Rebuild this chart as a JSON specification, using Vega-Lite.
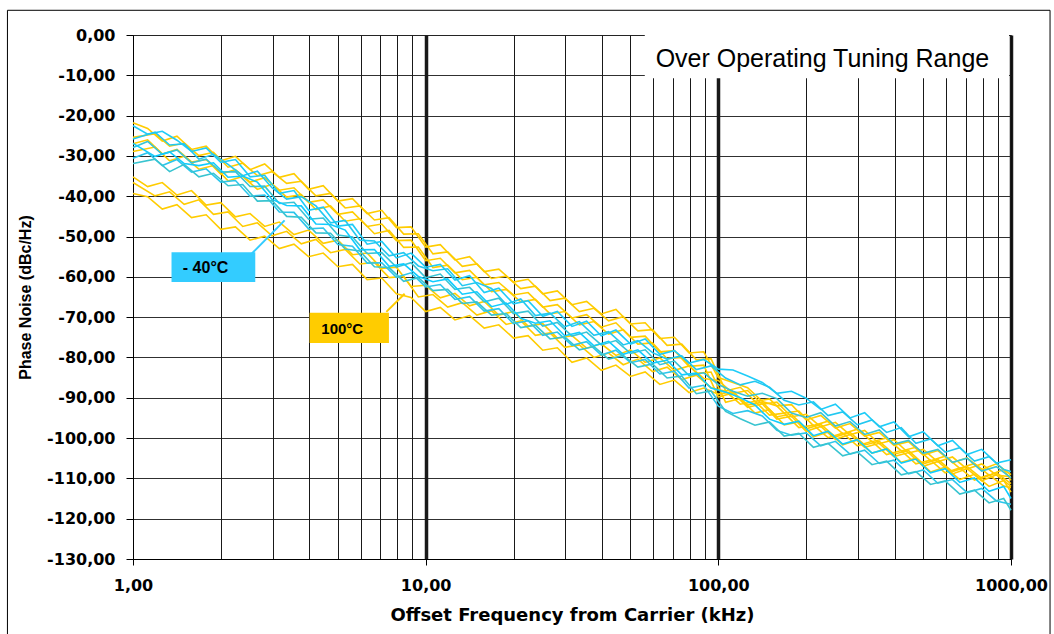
{
"$schema":"https://vega.github.io/schema/vega-lite/v6.json",
"width":878,"height":524,
"autosize":{"type":"none"},
"padding":{"left":133,"top":35,"right":43,"bottom":75},
"background":"white",
"config":{"view":{"stroke":"#808080","strokeWidth":1}},
"datasets":{
"yl":[
{"f":1,"s":"y1","v":-21.8},{"f":1.122,"s":"y1","v":-23.2},{"f":1.259,"s":"y1","v":-26.3},{"f":1.413,"s":"y1","v":-25.1},{"f":1.585,"s":"y1","v":-28.4},{"f":1.778,"s":"y1","v":-27.6},{"f":1.995,"s":"y1","v":-31.2},{"f":2.239,"s":"y1","v":-30.1},{"f":2.512,"s":"y1","v":-33.4},{"f":2.818,"s":"y1","v":-32.0},{"f":3.162,"s":"y1","v":-35.3},{"f":3.548,"s":"y1","v":-34.4},{"f":3.981,"s":"y1","v":-38.3},{"f":4.467,"s":"y1","v":-37.4},{"f":5.012,"s":"y1","v":-41.2},{"f":5.623,"s":"y1","v":-40.6},{"f":6.31,"s":"y1","v":-44.3},{"f":7.079,"s":"y1","v":-43.5},{"f":7.943,"s":"y1","v":-47.8},{"f":8.913,"s":"y1","v":-47.6},{"f":10,"s":"y1","v":-52.6},{"f":11.22,"s":"y1","v":-52.0},{"f":12.59,"s":"y1","v":-55.8},{"f":14.13,"s":"y1","v":-55.0},{"f":15.85,"s":"y1","v":-58.7},{"f":17.78,"s":"y1","v":-58.1},{"f":19.95,"s":"y1","v":-61.3},{"f":22.39,"s":"y1","v":-60.6},{"f":25.12,"s":"y1","v":-64.2},{"f":28.18,"s":"y1","v":-63.5},{"f":31.62,"s":"y1","v":-66.9},{"f":35.48,"s":"y1","v":-66.1},{"f":39.81,"s":"y1","v":-69.2},{"f":44.67,"s":"y1","v":-68.1},{"f":50.12,"s":"y1","v":-71.7},{"f":56.23,"s":"y1","v":-71.4},{"f":63.1,"s":"y1","v":-75.3},{"f":70.79,"s":"y1","v":-75.0},{"f":79.43,"s":"y1","v":-78.9},{"f":89.13,"s":"y1","v":-78.6},{"f":100,"s":"y1","v":-85.0},{"f":112.2,"s":"y1","v":-86.2},{"f":125.9,"s":"y1","v":-87.5},{"f":141.3,"s":"y1","v":-90.9},{"f":158.5,"s":"y1","v":-92.0},{"f":177.8,"s":"y1","v":-91.7},{"f":199.5,"s":"y1","v":-95.5},{"f":223.9,"s":"y1","v":-94.4},{"f":251.2,"s":"y1","v":-97.5},{"f":281.8,"s":"y1","v":-96.4},{"f":316.2,"s":"y1","v":-99.5},{"f":354.8,"s":"y1","v":-98.6},{"f":398.1,"s":"y1","v":-101.8},{"f":446.7,"s":"y1","v":-100.9},{"f":501.2,"s":"y1","v":-104.2},{"f":562.3,"s":"y1","v":-103.1},{"f":631,"s":"y1","v":-106.1},{"f":707.9,"s":"y1","v":-104.9},{"f":794.3,"s":"y1","v":-107.8},{"f":891.3,"s":"y1","v":-106.4},{"f":1000,"s":"y1","v":-109.1},
{"f":1,"s":"y2","v":-25.4},{"f":1.189,"s":"y2","v":-24.5},{"f":1.334,"s":"y2","v":-27.6},{"f":1.496,"s":"y2","v":-26.8},{"f":1.679,"s":"y2","v":-29.9},{"f":1.884,"s":"y2","v":-29.1},{"f":2.113,"s":"y2","v":-32.8},{"f":2.371,"s":"y2","v":-31.8},{"f":2.661,"s":"y2","v":-34.9},{"f":2.985,"s":"y2","v":-33.9},{"f":3.35,"s":"y2","v":-36.8},{"f":3.758,"s":"y2","v":-36.3},{"f":4.217,"s":"y2","v":-39.9},{"f":4.732,"s":"y2","v":-39.3},{"f":5.309,"s":"y2","v":-42.9},{"f":5.957,"s":"y2","v":-42.4},{"f":6.683,"s":"y2","v":-45.9},{"f":7.499,"s":"y2","v":-45.3},{"f":8.414,"s":"y2","v":-49.4},{"f":9.441,"s":"y2","v":-49.3},{"f":10.59,"s":"y2","v":-54.3},{"f":11.89,"s":"y2","v":-53.8},{"f":13.34,"s":"y2","v":-57.4},{"f":14.96,"s":"y2","v":-56.8},{"f":16.79,"s":"y2","v":-60.4},{"f":18.84,"s":"y2","v":-59.8},{"f":21.13,"s":"y2","v":-62.9},{"f":23.71,"s":"y2","v":-62.3},{"f":26.61,"s":"y2","v":-65.9},{"f":29.85,"s":"y2","v":-65.3},{"f":33.5,"s":"y2","v":-68.6},{"f":37.58,"s":"y2","v":-67.8},{"f":42.17,"s":"y2","v":-70.9},{"f":47.32,"s":"y2","v":-69.9},{"f":53.09,"s":"y2","v":-73.4},{"f":59.57,"s":"y2","v":-73.1},{"f":66.83,"s":"y2","v":-77.0},{"f":74.99,"s":"y2","v":-76.7},{"f":84.14,"s":"y2","v":-80.6},{"f":94.41,"s":"y2","v":-80.3},{"f":105.9,"s":"y2","v":-88.3},{"f":118.9,"s":"y2","v":-87.4},{"f":133.4,"s":"y2","v":-90.9},{"f":149.6,"s":"y2","v":-90.3},{"f":167.9,"s":"y2","v":-93.8},{"f":188.4,"s":"y2","v":-93.3},{"f":211.3,"s":"y2","v":-96.9},{"f":237.1,"s":"y2","v":-95.8},{"f":266.1,"s":"y2","v":-98.9},{"f":298.5,"s":"y2","v":-97.8},{"f":335,"s":"y2","v":-100.9},{"f":375.8,"s":"y2","v":-100.0},{"f":421.7,"s":"y2","v":-103.2},{"f":473.2,"s":"y2","v":-102.3},{"f":530.9,"s":"y2","v":-105.6},{"f":595.7,"s":"y2","v":-104.5},{"f":668.3,"s":"y2","v":-107.5},{"f":749.9,"s":"y2","v":-106.3},{"f":841.4,"s":"y2","v":-109.2},{"f":944.1,"s":"y2","v":-107.8},{"f":1000,"s":"y2","v":-110.5},
{"f":1,"s":"y3","v":-27.0},{"f":1.122,"s":"y3","v":-26.0},{"f":1.259,"s":"y3","v":-29.5},{"f":1.413,"s":"y3","v":-28.4},{"f":1.585,"s":"y3","v":-31.5},{"f":1.778,"s":"y3","v":-30.9},{"f":1.995,"s":"y3","v":-34.5},{"f":2.239,"s":"y3","v":-33.4},{"f":2.512,"s":"y3","v":-36.5},{"f":2.818,"s":"y3","v":-35.4},{"f":3.162,"s":"y3","v":-38.5},{"f":3.548,"s":"y3","v":-37.9},{"f":3.981,"s":"y3","v":-41.5},{"f":4.467,"s":"y3","v":-40.9},{"f":5.012,"s":"y3","v":-44.5},{"f":5.623,"s":"y3","v":-43.9},{"f":6.31,"s":"y3","v":-47.5},{"f":7.079,"s":"y3","v":-46.9},{"f":7.943,"s":"y3","v":-51.0},{"f":8.913,"s":"y3","v":-50.9},{"f":10,"s":"y3","v":-56.0},{"f":11.22,"s":"y3","v":-55.4},{"f":12.59,"s":"y3","v":-59.0},{"f":14.13,"s":"y3","v":-58.4},{"f":15.85,"s":"y3","v":-62.0},{"f":17.78,"s":"y3","v":-61.4},{"f":19.95,"s":"y3","v":-64.5},{"f":22.39,"s":"y3","v":-63.9},{"f":25.12,"s":"y3","v":-67.5},{"f":28.18,"s":"y3","v":-66.9},{"f":31.62,"s":"y3","v":-70.2},{"f":35.48,"s":"y3","v":-69.4},{"f":39.81,"s":"y3","v":-72.5},{"f":44.67,"s":"y3","v":-71.4},{"f":50.12,"s":"y3","v":-75.0},{"f":56.23,"s":"y3","v":-74.7},{"f":63.1,"s":"y3","v":-78.6},{"f":70.79,"s":"y3","v":-78.3},{"f":79.43,"s":"y3","v":-82.2},{"f":89.13,"s":"y3","v":-81.9},{"f":100,"s":"y3","v":-89.8},{"f":112.2,"s":"y3","v":-88.8},{"f":125.9,"s":"y3","v":-92.4},{"f":141.3,"s":"y3","v":-91.5},{"f":158.5,"s":"y3","v":-95.3},{"f":177.8,"s":"y3","v":-94.6},{"f":199.5,"s":"y3","v":-98.3},{"f":223.9,"s":"y3","v":-97.1},{"f":251.2,"s":"y3","v":-100.3},{"f":281.8,"s":"y3","v":-99.1},{"f":316.2,"s":"y3","v":-102.3},{"f":354.8,"s":"y3","v":-101.3},{"f":398.1,"s":"y3","v":-104.6},{"f":446.7,"s":"y3","v":-103.6},{"f":501.2,"s":"y3","v":-107.0},{"f":562.3,"s":"y3","v":-105.8},{"f":631,"s":"y3","v":-108.9},{"f":707.9,"s":"y3","v":-107.6},{"f":794.3,"s":"y3","v":-110.6},{"f":891.3,"s":"y3","v":-109.1},{"f":1000,"s":"y3","v":-112.0},
{"f":1,"s":"y4","v":-28.9},{"f":1.189,"s":"y4","v":-27.8},{"f":1.334,"s":"y4","v":-31.2},{"f":1.496,"s":"y4","v":-30.1},{"f":1.679,"s":"y4","v":-33.3},{"f":1.884,"s":"y4","v":-32.4},{"f":2.113,"s":"y4","v":-36.2},{"f":2.371,"s":"y4","v":-35.1},{"f":2.661,"s":"y4","v":-38.3},{"f":2.985,"s":"y4","v":-37.0},{"f":3.35,"s":"y4","v":-40.2},{"f":3.758,"s":"y4","v":-39.6},{"f":4.217,"s":"y4","v":-43.3},{"f":4.732,"s":"y4","v":-42.4},{"f":5.309,"s":"y4","v":-46.2},{"f":5.957,"s":"y4","v":-45.6},{"f":6.683,"s":"y4","v":-49.3},{"f":7.499,"s":"y4","v":-48.5},{"f":8.414,"s":"y4","v":-52.7},{"f":9.441,"s":"y4","v":-52.6},{"f":10.59,"s":"y4","v":-57.7},{"f":11.89,"s":"y4","v":-57.1},{"f":13.34,"s":"y4","v":-60.7},{"f":14.96,"s":"y4","v":-60.1},{"f":16.79,"s":"y4","v":-63.7},{"f":18.84,"s":"y4","v":-63.1},{"f":21.13,"s":"y4","v":-66.2},{"f":23.71,"s":"y4","v":-65.6},{"f":26.61,"s":"y4","v":-69.2},{"f":29.85,"s":"y4","v":-68.6},{"f":33.5,"s":"y4","v":-71.9},{"f":37.58,"s":"y4","v":-71.1},{"f":42.17,"s":"y4","v":-74.2},{"f":47.32,"s":"y4","v":-73.1},{"f":53.09,"s":"y4","v":-76.7},{"f":59.57,"s":"y4","v":-76.4},{"f":66.83,"s":"y4","v":-80.3},{"f":74.99,"s":"y4","v":-80.0},{"f":84.14,"s":"y4","v":-83.9},{"f":94.41,"s":"y4","v":-83.6},{"f":105.9,"s":"y4","v":-91.1},{"f":118.9,"s":"y4","v":-90.2},{"f":133.4,"s":"y4","v":-93.8},{"f":149.6,"s":"y4","v":-92.9},{"f":167.9,"s":"y4","v":-96.7},{"f":188.4,"s":"y4","v":-96.0},{"f":211.3,"s":"y4","v":-99.7},{"f":237.1,"s":"y4","v":-98.5},{"f":266.1,"s":"y4","v":-101.7},{"f":298.5,"s":"y4","v":-100.5},{"f":335,"s":"y4","v":-103.7},{"f":375.8,"s":"y4","v":-102.7},{"f":421.7,"s":"y4","v":-106.0},{"f":473.2,"s":"y4","v":-105.0},{"f":530.9,"s":"y4","v":-108.4},{"f":595.7,"s":"y4","v":-107.2},{"f":668.3,"s":"y4","v":-110.3},{"f":749.9,"s":"y4","v":-109.0},{"f":841.4,"s":"y4","v":-112.0},{"f":944.1,"s":"y4","v":-110.5},{"f":1000,"s":"y4","v":-113.4},
{"f":1,"s":"y5","v":-35.2},{"f":1.122,"s":"y5","v":-37.6},{"f":1.259,"s":"y5","v":-36.6},{"f":1.413,"s":"y5","v":-39.7},{"f":1.585,"s":"y5","v":-38.6},{"f":1.778,"s":"y5","v":-42.2},{"f":1.995,"s":"y5","v":-41.6},{"f":2.239,"s":"y5","v":-45.1},{"f":2.512,"s":"y5","v":-44.3},{"f":2.818,"s":"y5","v":-47.5},{"f":3.162,"s":"y5","v":-46.4},{"f":3.548,"s":"y5","v":-49.5},{"f":3.981,"s":"y5","v":-48.4},{"f":4.467,"s":"y5","v":-51.7},{"f":5.012,"s":"y5","v":-50.9},{"f":5.623,"s":"y5","v":-54.5},{"f":6.31,"s":"y5","v":-54.1},{"f":7.079,"s":"y5","v":-57.9},{"f":7.943,"s":"y5","v":-57.6},{"f":8.913,"s":"y5","v":-62.4},{"f":10,"s":"y5","v":-62.1},{"f":11.22,"s":"y5","v":-65.2},{"f":12.59,"s":"y5","v":-64.1},{"f":14.13,"s":"y5","v":-67.2},{"f":15.85,"s":"y5","v":-66.1},{"f":17.78,"s":"y5","v":-69.5},{"f":19.95,"s":"y5","v":-68.6},{"f":22.39,"s":"y5","v":-72.2},{"f":25.12,"s":"y5","v":-71.6},{"f":28.18,"s":"y5","v":-75.2},{"f":31.62,"s":"y5","v":-74.6},{"f":35.48,"s":"y5","v":-77.7},{"f":39.81,"s":"y5","v":-76.6},{"f":44.67,"s":"y5","v":-79.5},{"f":50.12,"s":"y5","v":-78.1},{"f":56.23,"s":"y5","v":-81.2},{"f":63.1,"s":"y5","v":-80.1},{"f":70.79,"s":"y5","v":-83.2},{"f":79.43,"s":"y5","v":-82.1},{"f":89.13,"s":"y5","v":-85.2},{"f":100,"s":"y5","v":-85.7},{"f":112.2,"s":"y5","v":-88.9},{"f":125.9,"s":"y5","v":-88.2},{"f":141.3,"s":"y5","v":-91.6},{"f":158.5,"s":"y5","v":-91.1},{"f":177.8,"s":"y5","v":-94.7},{"f":199.5,"s":"y5","v":-94.1},{"f":223.9,"s":"y5","v":-97.2},{"f":251.2,"s":"y5","v":-96.1},{"f":281.8,"s":"y5","v":-99.2},{"f":316.2,"s":"y5","v":-98.1},{"f":354.8,"s":"y5","v":-101.4},{"f":398.1,"s":"y5","v":-100.4},{"f":446.7,"s":"y5","v":-103.7},{"f":501.2,"s":"y5","v":-102.8},{"f":562.3,"s":"y5","v":-105.9},{"f":631,"s":"y5","v":-104.7},{"f":707.9,"s":"y5","v":-107.7},{"f":794.3,"s":"y5","v":-106.4},{"f":891.3,"s":"y5","v":-109.2},{"f":1000,"s":"y5","v":-109.6},
{"f":1,"s":"y6","v":-36.6},{"f":1.189,"s":"y6","v":-39.9},{"f":1.334,"s":"y6","v":-38.9},{"f":1.496,"s":"y6","v":-42.0},{"f":1.679,"s":"y6","v":-40.9},{"f":1.884,"s":"y6","v":-44.5},{"f":2.113,"s":"y6","v":-43.9},{"f":2.371,"s":"y6","v":-47.5},{"f":2.661,"s":"y6","v":-46.6},{"f":2.985,"s":"y6","v":-49.8},{"f":3.35,"s":"y6","v":-48.7},{"f":3.758,"s":"y6","v":-51.8},{"f":4.217,"s":"y6","v":-50.7},{"f":4.732,"s":"y6","v":-54.0},{"f":5.309,"s":"y6","v":-53.2},{"f":5.957,"s":"y6","v":-56.8},{"f":6.683,"s":"y6","v":-56.4},{"f":7.499,"s":"y6","v":-60.2},{"f":8.414,"s":"y6","v":-59.9},{"f":9.441,"s":"y6","v":-65.0},{"f":10.59,"s":"y6","v":-64.4},{"f":11.89,"s":"y6","v":-67.5},{"f":13.34,"s":"y6","v":-66.4},{"f":14.96,"s":"y6","v":-69.5},{"f":16.79,"s":"y6","v":-68.4},{"f":18.84,"s":"y6","v":-71.8},{"f":21.13,"s":"y6","v":-70.9},{"f":23.71,"s":"y6","v":-74.5},{"f":26.61,"s":"y6","v":-73.9},{"f":29.85,"s":"y6","v":-77.5},{"f":33.5,"s":"y6","v":-76.9},{"f":37.58,"s":"y6","v":-80.0},{"f":42.17,"s":"y6","v":-78.9},{"f":47.32,"s":"y6","v":-81.8},{"f":53.09,"s":"y6","v":-80.4},{"f":59.57,"s":"y6","v":-83.5},{"f":66.83,"s":"y6","v":-82.4},{"f":74.99,"s":"y6","v":-85.5},{"f":84.14,"s":"y6","v":-84.4},{"f":94.41,"s":"y6","v":-87.5},{"f":105.9,"s":"y6","v":-88.4},{"f":118.9,"s":"y6","v":-91.6},{"f":133.4,"s":"y6","v":-90.9},{"f":149.6,"s":"y6","v":-94.3},{"f":167.9,"s":"y6","v":-93.8},{"f":188.4,"s":"y6","v":-97.4},{"f":211.3,"s":"y6","v":-96.8},{"f":237.1,"s":"y6","v":-99.9},{"f":266.1,"s":"y6","v":-98.8},{"f":298.5,"s":"y6","v":-101.9},{"f":335,"s":"y6","v":-100.8},{"f":375.8,"s":"y6","v":-104.1},{"f":421.7,"s":"y6","v":-103.1},{"f":473.2,"s":"y6","v":-106.4},{"f":530.9,"s":"y6","v":-105.5},{"f":595.7,"s":"y6","v":-108.6},{"f":668.3,"s":"y6","v":-107.4},{"f":749.9,"s":"y6","v":-110.4},{"f":841.4,"s":"y6","v":-109.1},{"f":944.1,"s":"y6","v":-111.9},{"f":1000,"s":"y6","v":-112.3},
{"f":1,"s":"y7","v":-39.3},{"f":1.122,"s":"y7","v":-40.1},{"f":1.259,"s":"y7","v":-43.2},{"f":1.413,"s":"y7","v":-42.1},{"f":1.585,"s":"y7","v":-45.3},{"f":1.778,"s":"y7","v":-44.6},{"f":1.995,"s":"y7","v":-48.2},{"f":2.239,"s":"y7","v":-47.6},{"f":2.512,"s":"y7","v":-50.9},{"f":2.818,"s":"y7","v":-49.9},{"f":3.162,"s":"y7","v":-53.0},{"f":3.548,"s":"y7","v":-51.9},{"f":3.981,"s":"y7","v":-55.0},{"f":4.467,"s":"y7","v":-54.1},{"f":5.012,"s":"y7","v":-57.5},{"f":5.623,"s":"y7","v":-56.9},{"f":6.31,"s":"y7","v":-60.7},{"f":7.079,"s":"y7","v":-60.3},{"f":7.943,"s":"y7","v":-64.2},{"f":8.913,"s":"y7","v":-65.1},{"f":10,"s":"y7","v":-68.6},{"f":11.22,"s":"y7","v":-67.6},{"f":12.59,"s":"y7","v":-70.7},{"f":14.13,"s":"y7","v":-69.6},{"f":15.85,"s":"y7","v":-72.7},{"f":17.78,"s":"y7","v":-71.9},{"f":19.95,"s":"y7","v":-75.2},{"f":22.39,"s":"y7","v":-74.6},{"f":25.12,"s":"y7","v":-78.2},{"f":28.18,"s":"y7","v":-77.6},{"f":31.62,"s":"y7","v":-81.2},{"f":35.48,"s":"y7","v":-80.1},{"f":39.81,"s":"y7","v":-83.2},{"f":44.67,"s":"y7","v":-81.9},{"f":50.12,"s":"y7","v":-84.7},{"f":56.23,"s":"y7","v":-83.6},{"f":63.1,"s":"y7","v":-86.7},{"f":70.79,"s":"y7","v":-85.6},{"f":79.43,"s":"y7","v":-88.7},{"f":89.13,"s":"y7","v":-87.6},{"f":100,"s":"y7","v":-89.1},{"f":112.2,"s":"y7","v":-88.5},{"f":125.9,"s":"y7","v":-91.8},{"f":141.3,"s":"y7","v":-91.1},{"f":158.5,"s":"y7","v":-94.7},{"f":177.8,"s":"y7","v":-94.1},{"f":199.5,"s":"y7","v":-97.7},{"f":223.9,"s":"y7","v":-96.6},{"f":251.2,"s":"y7","v":-99.7},{"f":281.8,"s":"y7","v":-98.6},{"f":316.2,"s":"y7","v":-101.7},{"f":354.8,"s":"y7","v":-100.8},{"f":398.1,"s":"y7","v":-104.0},{"f":446.7,"s":"y7","v":-103.1},{"f":501.2,"s":"y7","v":-106.4},{"f":562.3,"s":"y7","v":-105.3},{"f":631,"s":"y7","v":-108.3},{"f":707.9,"s":"y7","v":-107.1},{"f":794.3,"s":"y7","v":-110.0},{"f":891.3,"s":"y7","v":-108.6},{"f":1000,"s":"y7","v":-111.3}
],
"cy":[
{"f":1,"s":"c1","v":-22.5},{"f":1.122,"s":"c1","v":-24.6},{"f":1.259,"s":"c1","v":-23.9},{"f":1.413,"s":"c1","v":-26.1},{"f":1.585,"s":"c1","v":-28.9},{"f":1.778,"s":"c1","v":-28.0},{"f":1.995,"s":"c1","v":-31.6},{"f":2.239,"s":"c1","v":-30.9},{"f":2.512,"s":"c1","v":-35.2},{"f":2.818,"s":"c1","v":-34.8},{"f":3.162,"s":"c1","v":-39.3},{"f":3.548,"s":"c1","v":-38.6},{"f":3.981,"s":"c1","v":-43.5},{"f":4.467,"s":"c1","v":-42.7},{"f":5.012,"s":"c1","v":-47.4},{"f":5.623,"s":"c1","v":-47.0},{"f":6.31,"s":"c1","v":-51.9},{"f":7.079,"s":"c1","v":-51.2},{"f":7.943,"s":"c1","v":-55.3},{"f":8.913,"s":"c1","v":-54.1},{"f":10,"s":"c1","v":-57.6},{"f":11.22,"s":"c1","v":-56.9},{"f":12.59,"s":"c1","v":-60.8},{"f":14.13,"s":"c1","v":-59.7},{"f":15.85,"s":"c1","v":-63.9},{"f":17.78,"s":"c1","v":-62.8},{"f":19.95,"s":"c1","v":-66.7},{"f":22.39,"s":"c1","v":-65.9},{"f":25.12,"s":"c1","v":-69.8},{"f":28.18,"s":"c1","v":-68.6},{"f":31.62,"s":"c1","v":-72.3},{"f":35.48,"s":"c1","v":-71.0},{"f":39.81,"s":"c1","v":-74.6},{"f":44.67,"s":"c1","v":-73.2},{"f":50.12,"s":"c1","v":-76.7},{"f":56.23,"s":"c1","v":-75.4},{"f":63.1,"s":"c1","v":-79.2},{"f":70.79,"s":"c1","v":-78.3},{"f":79.43,"s":"c1","v":-81.4},{"f":89.13,"s":"c1","v":-80.5},{"f":100,"s":"c1","v":-82.9},{"f":112.2,"s":"c1","v":-83.1},{"f":125.9,"s":"c1","v":-84.6},{"f":141.3,"s":"c1","v":-86.2},{"f":158.5,"s":"c1","v":-88.9},{"f":177.8,"s":"c1","v":-88.4},{"f":199.5,"s":"c1","v":-90.1},{"f":223.9,"s":"c1","v":-92.9},{"f":251.2,"s":"c1","v":-91.6},{"f":281.8,"s":"c1","v":-95.0},{"f":316.2,"s":"c1","v":-93.7},{"f":354.8,"s":"c1","v":-97.2},{"f":398.1,"s":"c1","v":-96.0},{"f":446.7,"s":"c1","v":-99.7},{"f":501.2,"s":"c1","v":-98.4},{"f":562.3,"s":"c1","v":-101.9},{"f":631,"s":"c1","v":-100.6},{"f":707.9,"s":"c1","v":-104.1},{"f":794.3,"s":"c1","v":-102.8},{"f":891.3,"s":"c1","v":-106.2},{"f":1000,"s":"c1","v":-105.4},
{"f":1,"s":"c2","v":-25.8},{"f":1.189,"s":"c2","v":-24.1},{"f":1.334,"s":"c2","v":-27.3},{"f":1.496,"s":"c2","v":-27.0},{"f":1.679,"s":"c2","v":-30.8},{"f":1.884,"s":"c2","v":-29.6},{"f":2.113,"s":"c2","v":-32.1},{"f":2.371,"s":"c2","v":-34.9},{"f":2.661,"s":"c2","v":-33.8},{"f":2.985,"s":"c2","v":-37.9},{"f":3.35,"s":"c2","v":-40.7},{"f":3.758,"s":"c2","v":-40.1},{"f":4.217,"s":"c2","v":-42.4},{"f":4.732,"s":"c2","v":-46.6},{"f":5.309,"s":"c2","v":-46.0},{"f":5.957,"s":"c2","v":-50.9},{"f":6.683,"s":"c2","v":-51.1},{"f":7.499,"s":"c2","v":-54.8},{"f":8.414,"s":"c2","v":-54.0},{"f":9.441,"s":"c2","v":-57.3},{"f":10.59,"s":"c2","v":-58.5},{"f":11.89,"s":"c2","v":-58.0},{"f":13.34,"s":"c2","v":-62.2},{"f":14.96,"s":"c2","v":-61.4},{"f":16.79,"s":"c2","v":-62.9},{"f":18.84,"s":"c2","v":-66.8},{"f":21.13,"s":"c2","v":-65.5},{"f":23.71,"s":"c2","v":-69.6},{"f":26.61,"s":"c2","v":-69.0},{"f":29.85,"s":"c2","v":-72.4},{"f":33.5,"s":"c2","v":-71.1},{"f":37.58,"s":"c2","v":-74.5},{"f":42.17,"s":"c2","v":-73.6},{"f":47.32,"s":"c2","v":-76.9},{"f":53.09,"s":"c2","v":-75.8},{"f":59.57,"s":"c2","v":-78.8},{"f":66.83,"s":"c2","v":-80.4},{"f":74.99,"s":"c2","v":-79.6},{"f":84.14,"s":"c2","v":-83.0},{"f":94.41,"s":"c2","v":-82.1},{"f":105.9,"s":"c2","v":-85.1},{"f":118.9,"s":"c2","v":-86.8},{"f":133.4,"s":"c2","v":-85.9},{"f":149.6,"s":"c2","v":-87.4},{"f":167.9,"s":"c2","v":-90.6},{"f":188.4,"s":"c2","v":-91.8},{"f":211.3,"s":"c2","v":-91.0},{"f":237.1,"s":"c2","v":-94.4},{"f":266.1,"s":"c2","v":-93.5},{"f":298.5,"s":"c2","v":-96.7},{"f":335,"s":"c2","v":-95.5},{"f":375.8,"s":"c2","v":-98.6},{"f":421.7,"s":"c2","v":-97.4},{"f":473.2,"s":"c2","v":-101.3},{"f":530.9,"s":"c2","v":-100.2},{"f":595.7,"s":"c2","v":-103.5},{"f":668.3,"s":"c2","v":-102.4},{"f":749.9,"s":"c2","v":-105.7},{"f":841.4,"s":"c2","v":-104.6},{"f":944.1,"s":"c2","v":-107.8},{"f":1000,"s":"c2","v":-108.3},
{"f":1,"s":"c3","v":-27.9},{"f":1.122,"s":"c3","v":-26.4},{"f":1.259,"s":"c3","v":-29.6},{"f":1.413,"s":"c3","v":-28.5},{"f":1.585,"s":"c3","v":-31.7},{"f":1.778,"s":"c3","v":-30.8},{"f":1.995,"s":"c3","v":-34.0},{"f":2.239,"s":"c3","v":-33.9},{"f":2.512,"s":"c3","v":-37.6},{"f":2.818,"s":"c3","v":-37.5},{"f":3.162,"s":"c3","v":-41.8},{"f":3.548,"s":"c3","v":-41.5},{"f":3.981,"s":"c3","v":-45.7},{"f":4.467,"s":"c3","v":-45.4},{"f":5.012,"s":"c3","v":-49.6},{"f":5.623,"s":"c3","v":-50.1},{"f":6.31,"s":"c3","v":-54.2},{"f":7.079,"s":"c3","v":-54.0},{"f":7.943,"s":"c3","v":-57.6},{"f":8.913,"s":"c3","v":-56.5},{"f":10,"s":"c3","v":-60.2},{"f":11.22,"s":"c3","v":-59.3},{"f":12.59,"s":"c3","v":-63.1},{"f":14.13,"s":"c3","v":-62.6},{"f":15.85,"s":"c3","v":-66.2},{"f":17.78,"s":"c3","v":-65.3},{"f":19.95,"s":"c3","v":-69.1},{"f":22.39,"s":"c3","v":-68.5},{"f":25.12,"s":"c3","v":-72.2},{"f":28.18,"s":"c3","v":-71.3},{"f":31.62,"s":"c3","v":-74.7},{"f":35.48,"s":"c3","v":-73.7},{"f":39.81,"s":"c3","v":-76.9},{"f":44.67,"s":"c3","v":-75.8},{"f":50.12,"s":"c3","v":-79.0},{"f":56.23,"s":"c3","v":-78.1},{"f":63.1,"s":"c3","v":-81.8},{"f":70.79,"s":"c3","v":-80.9},{"f":79.43,"s":"c3","v":-84.5},{"f":89.13,"s":"c3","v":-83.8},{"f":100,"s":"c3","v":-86.7},{"f":112.2,"s":"c3","v":-88.4},{"f":125.9,"s":"c3","v":-89.6},{"f":141.3,"s":"c3","v":-88.9},{"f":158.5,"s":"c3","v":-90.2},{"f":177.8,"s":"c3","v":-93.8},{"f":199.5,"s":"c3","v":-94.9},{"f":223.9,"s":"c3","v":-93.7},{"f":251.2,"s":"c3","v":-97.0},{"f":281.8,"s":"c3","v":-95.9},{"f":316.2,"s":"c3","v":-99.1},{"f":354.8,"s":"c3","v":-98.0},{"f":398.1,"s":"c3","v":-101.5},{"f":446.7,"s":"c3","v":-100.6},{"f":501.2,"s":"c3","v":-103.8},{"f":562.3,"s":"c3","v":-102.8},{"f":631,"s":"c3","v":-106.0},{"f":707.9,"s":"c3","v":-105.0},{"f":794.3,"s":"c3","v":-108.2},{"f":891.3,"s":"c3","v":-107.1},{"f":1000,"s":"c3","v":-109.9},
{"f":1,"s":"c4","v":-26.9},{"f":1.189,"s":"c4","v":-30.1},{"f":1.334,"s":"c4","v":-29.0},{"f":1.496,"s":"c4","v":-31.9},{"f":1.679,"s":"c4","v":-32.4},{"f":1.884,"s":"c4","v":-31.7},{"f":2.113,"s":"c4","v":-35.3},{"f":2.371,"s":"c4","v":-35.0},{"f":2.661,"s":"c4","v":-36.5},{"f":2.985,"s":"c4","v":-40.8},{"f":3.35,"s":"c4","v":-42.3},{"f":3.758,"s":"c4","v":-42.4},{"f":4.217,"s":"c4","v":-46.9},{"f":4.732,"s":"c4","v":-47.0},{"f":5.309,"s":"c4","v":-48.4},{"f":5.957,"s":"c4","v":-53.3},{"f":6.683,"s":"c4","v":-53.2},{"f":7.499,"s":"c4","v":-57.4},{"f":8.414,"s":"c4","v":-56.8},{"f":9.441,"s":"c4","v":-59.9},{"f":10.59,"s":"c4","v":-61.2},{"f":11.89,"s":"c4","v":-60.5},{"f":13.34,"s":"c4","v":-64.3},{"f":14.96,"s":"c4","v":-63.7},{"f":16.79,"s":"c4","v":-67.4},{"f":18.84,"s":"c4","v":-66.5},{"f":21.13,"s":"c4","v":-70.3},{"f":23.71,"s":"c4","v":-71.5},{"f":26.61,"s":"c4","v":-70.9},{"f":29.85,"s":"c4","v":-74.6},{"f":33.5,"s":"c4","v":-73.8},{"f":37.58,"s":"c4","v":-77.1},{"f":42.17,"s":"c4","v":-76.0},{"f":47.32,"s":"c4","v":-79.2},{"f":53.09,"s":"c4","v":-78.1},{"f":59.57,"s":"c4","v":-81.4},{"f":66.83,"s":"c4","v":-80.7},{"f":74.99,"s":"c4","v":-84.3},{"f":84.14,"s":"c4","v":-83.9},{"f":94.41,"s":"c4","v":-87.6},{"f":105.9,"s":"c4","v":-88.6},{"f":118.9,"s":"c4","v":-90.0},{"f":133.4,"s":"c4","v":-91.8},{"f":149.6,"s":"c4","v":-95.3},{"f":167.9,"s":"c4","v":-96.6},{"f":188.4,"s":"c4","v":-95.8},{"f":211.3,"s":"c4","v":-99.4},{"f":237.1,"s":"c4","v":-98.3},{"f":266.1,"s":"c4","v":-101.5},{"f":298.5,"s":"c4","v":-100.4},{"f":335,"s":"c4","v":-103.7},{"f":375.8,"s":"c4","v":-102.7},{"f":421.7,"s":"c4","v":-106.2},{"f":473.2,"s":"c4","v":-105.2},{"f":530.9,"s":"c4","v":-108.6},{"f":595.7,"s":"c4","v":-107.6},{"f":668.3,"s":"c4","v":-111.0},{"f":749.9,"s":"c4","v":-109.9},{"f":841.4,"s":"c4","v":-113.2},{"f":944.1,"s":"c4","v":-112.0},{"f":1000,"s":"c4","v":-115.0},
{"f":1,"s":"c5","v":-30.6},{"f":1.122,"s":"c5","v":-29.2},{"f":1.259,"s":"c5","v":-32.4},{"f":1.413,"s":"c5","v":-30.9},{"f":1.585,"s":"c5","v":-34.0},{"f":1.778,"s":"c5","v":-33.2},{"f":1.995,"s":"c5","v":-36.5},{"f":2.239,"s":"c5","v":-36.1},{"f":2.512,"s":"c5","v":-40.0},{"f":2.818,"s":"c5","v":-39.7},{"f":3.162,"s":"c5","v":-43.9},{"f":3.548,"s":"c5","v":-44.0},{"f":3.981,"s":"c5","v":-48.1},{"f":4.467,"s":"c5","v":-47.9},{"f":5.012,"s":"c5","v":-52.0},{"f":5.623,"s":"c5","v":-52.4},{"f":6.31,"s":"c5","v":-56.6},{"f":7.079,"s":"c5","v":-56.5},{"f":7.943,"s":"c5","v":-60.1},{"f":8.913,"s":"c5","v":-59.0},{"f":10,"s":"c5","v":-62.5},{"f":11.22,"s":"c5","v":-61.9},{"f":12.59,"s":"c5","v":-65.6},{"f":14.13,"s":"c5","v":-64.9},{"f":15.85,"s":"c5","v":-68.5},{"f":17.78,"s":"c5","v":-67.9},{"f":19.95,"s":"c5","v":-71.6},{"f":22.39,"s":"c5","v":-70.9},{"f":25.12,"s":"c5","v":-74.5},{"f":28.18,"s":"c5","v":-73.7},{"f":31.62,"s":"c5","v":-77.0},{"f":35.48,"s":"c5","v":-76.1},{"f":39.81,"s":"c5","v":-79.4},{"f":44.67,"s":"c5","v":-78.2},{"f":50.12,"s":"c5","v":-81.3},{"f":56.23,"s":"c5","v":-80.5},{"f":63.1,"s":"c5","v":-84.1},{"f":70.79,"s":"c5","v":-83.4},{"f":79.43,"s":"c5","v":-87.6},{"f":89.13,"s":"c5","v":-86.9},{"f":100,"s":"c5","v":-92.1},{"f":112.2,"s":"c5","v":-93.9},{"f":125.9,"s":"c5","v":-93.2},{"f":141.3,"s":"c5","v":-94.5},{"f":158.5,"s":"c5","v":-98.1},{"f":177.8,"s":"c5","v":-99.3},{"f":199.5,"s":"c5","v":-98.7},{"f":223.9,"s":"c5","v":-101.9},{"f":251.2,"s":"c5","v":-100.8},{"f":281.8,"s":"c5","v":-104.0},{"f":316.2,"s":"c5","v":-103.0},{"f":354.8,"s":"c5","v":-106.3},{"f":398.1,"s":"c5","v":-105.5},{"f":446.7,"s":"c5","v":-108.9},{"f":501.2,"s":"c5","v":-107.9},{"f":562.3,"s":"c5","v":-111.2},{"f":631,"s":"c5","v":-110.3},{"f":707.9,"s":"c5","v":-113.5},{"f":794.3,"s":"c5","v":-112.5},{"f":891.3,"s":"c5","v":-115.6},{"f":1000,"s":"c5","v":-116.4},
{"f":1,"s":"c6","v":-31.9},{"f":1.189,"s":"c6","v":-30.8},{"f":1.334,"s":"c6","v":-33.9},{"f":1.496,"s":"c6","v":-32.1},{"f":1.679,"s":"c6","v":-35.2},{"f":1.884,"s":"c6","v":-34.3},{"f":2.113,"s":"c6","v":-37.4},{"f":2.371,"s":"c6","v":-37.1},{"f":2.661,"s":"c6","v":-41.2},{"f":2.985,"s":"c6","v":-41.1},{"f":3.35,"s":"c6","v":-45.0},{"f":3.758,"s":"c6","v":-45.2},{"f":4.217,"s":"c6","v":-49.1},{"f":4.732,"s":"c6","v":-49.2},{"f":5.309,"s":"c6","v":-53.1},{"f":5.957,"s":"c6","v":-53.6},{"f":6.683,"s":"c6","v":-57.5},{"f":7.499,"s":"c6","v":-57.7},{"f":8.414,"s":"c6","v":-61.1},{"f":9.441,"s":"c6","v":-60.2},{"f":10.59,"s":"c6","v":-63.4},{"f":11.89,"s":"c6","v":-63.1},{"f":13.34,"s":"c6","v":-66.6},{"f":14.96,"s":"c6","v":-66.2},{"f":16.79,"s":"c6","v":-69.5},{"f":18.84,"s":"c6","v":-69.1},{"f":21.13,"s":"c6","v":-72.6},{"f":23.71,"s":"c6","v":-72.0},{"f":26.61,"s":"c6","v":-75.4},{"f":29.85,"s":"c6","v":-74.9},{"f":33.5,"s":"c6","v":-78.1},{"f":37.58,"s":"c6","v":-77.3},{"f":42.17,"s":"c6","v":-80.4},{"f":47.32,"s":"c6","v":-79.5},{"f":53.09,"s":"c6","v":-82.4},{"f":59.57,"s":"c6","v":-81.6},{"f":66.83,"s":"c6","v":-85.1},{"f":74.99,"s":"c6","v":-84.6},{"f":84.14,"s":"c6","v":-89.0},{"f":94.41,"s":"c6","v":-88.3},{"f":105.9,"s":"c6","v":-93.4},{"f":118.9,"s":"c6","v":-95.2},{"f":133.4,"s":"c6","v":-96.8},{"f":149.6,"s":"c6","v":-96.0},{"f":167.9,"s":"c6","v":-99.5},{"f":188.4,"s":"c6","v":-98.8},{"f":211.3,"s":"c6","v":-102.3},{"f":237.1,"s":"c6","v":-101.3},{"f":266.1,"s":"c6","v":-104.4},{"f":298.5,"s":"c6","v":-103.4},{"f":335,"s":"c6","v":-106.6},{"f":375.8,"s":"c6","v":-105.7},{"f":421.7,"s":"c6","v":-109.1},{"f":473.2,"s":"c6","v":-108.3},{"f":530.9,"s":"c6","v":-111.5},{"f":595.7,"s":"c6","v":-110.6},{"f":668.3,"s":"c6","v":-113.9},{"f":749.9,"s":"c6","v":-112.9},{"f":841.4,"s":"c6","v":-116.1},{"f":944.1,"s":"c6","v":-115.0},{"f":1000,"s":"c6","v":-117.9}
]
},
"layer":[
{"data":{"name":"yl"},
 "mark":{"type":"line","color":"#FFCC00","strokeWidth":1.6},
 "encoding":{
  "x":{"field":"f","type":"quantitative","scale":{"type":"log","domain":[1,1000],"nice":false},
   "axis":{"values":[1,2,3,4,5,6,7,8,9,10,20,30,40,50,60,70,80,90,100,200,300,400,500,600,700,800,900,1000],
    "grid":true,"gridColor":"#000","gridOpacity":0.9,
    "gridWidth":{"condition":{"test":"datum.value==10||datum.value==100||datum.value==1000","value":3.5},"value":1},
    "ticks":true,"tickSize":6,"tickColor":"#000",
    "tickOpacity":{"condition":{"test":"datum.value==1||datum.value==10||datum.value==100||datum.value==1000","value":1},"value":0},
    "labelExpr":"(datum.value==1||datum.value==10||datum.value==100||datum.value==1000) ? replace(format(datum.value,'.2f'),'.',',') : ''",
    "labelFont":"DejaVu Sans","labelFontWeight":"bold","labelFontSize":16,"labelColor":"#000","labelPadding":12,
    "labelOverlap":false,"labelFlush":false,"labelBound":false,"labelAngle":0,
    "domainColor":"#000","domainWidth":1,
    "title":"Offset Frequency from Carrier (kHz)","titleFont":"DejaVu Sans","titleFontWeight":"bold","titleFontSize":18,"titleColor":"#000",
    "titleBaseline":"alphabetic","titleY":61}},
  "y":{"field":"v","type":"quantitative","scale":{"domain":[-130,0],"nice":false},
   "axis":{"values":[-130,-120,-110,-100,-90,-80,-70,-60,-50,-40,-30,-20,-10,0],
    "grid":true,"gridColor":"#1a1a1a","gridOpacity":0.9,"tickSize":7,"tickColor":"#000",
    "labelExpr":"(datum.value<0?'-':'')+replace(format(abs(datum.value),'.2f'),'.',',')",
    "labelFont":"DejaVu Sans","labelFontWeight":"bold","labelFontSize":16,"labelColor":"#000","labelPadding":11,
    "domainColor":"#000","domainWidth":1,
    "title":"Phase Noise (dBc/Hz)","titleFont":"Liberation Sans","titleFontWeight":"bold","titleFontSize":16,"titleColor":"#000",
    "titleX":-108,"titleY":262,"titleAngle":-90,"titleAlign":"center","titleBaseline":"middle"}},
  "detail":{"field":"s","type":"nominal"}}},
{"data":{"name":"cy"},
 "mark":{"type":"line","strokeWidth":1.6},
 "encoding":{
  "x":{"field":"f","type":"quantitative"},
  "y":{"field":"v","type":"quantitative"},
  "color":{"field":"s","type":"nominal","legend":null,
   "scale":{"domain":["c1","c2","c3","c4","c5","c6"],"range":["#1ECCF8","#22C8F0","#38C4D6","#10CCFF","#2CC6EC","#38C4D0"]}}}},
{"data":{"values":[{}]},
 "mark":{"type":"rect","fill":"white","stroke":null},
 "encoding":{"x":{"datum":56.07},"x2":{"datum":984.4},"y":{"datum":0.4},"y2":{"datum":-10.74}}},
{"data":{"values":[{}]},
 "mark":{"type":"text","text":"Over Operating Tuning Range","font":"Liberation Sans","fontSize":25,"color":"#000","align":"center","baseline":"alphabetic"},
 "encoding":{"x":{"datum":226.8},"y":{"datum":-7.94}}},
{"data":{"values":[{}]},
 "mark":{"type":"rule","color":"#33CCFF","strokeWidth":2},
 "encoding":{"x":{"datum":2.548},"x2":{"datum":3.296},"y":{"datum":-54.2},"y2":{"datum":-46.0}}},
{"data":{"values":[{}]},
 "mark":{"type":"rect","fill":"#33CCFF"},
 "encoding":{"x":{"datum":1.354},"x2":{"datum":2.617},"y":{"datum":-53.9},"y2":{"datum":-61.3}}},
{"data":{"values":[{}]},
 "mark":{"type":"text","text":"- 40°C","font":"Liberation Sans","fontWeight":"bold","fontSize":16,"color":"#000","align":"left","baseline":"middle"},
 "encoding":{"x":{"datum":1.48},"y":{"datum":-57.9}}},
{"data":{"values":[{}]},
 "mark":{"type":"rule","color":"#FFCC00","strokeWidth":2},
 "encoding":{"x":{"datum":7.337},"x2":{"datum":8.476},"y":{"datum":-68.7},"y2":{"datum":-64.2}}},
{"data":{"values":[{}]},
 "mark":{"type":"rect","fill":"#FFCC00"},
 "encoding":{"x":{"datum":4.012},"x2":{"datum":7.49},"y":{"datum":-68.9},"y2":{"datum":-76.4}}},
{"data":{"values":[{}]},
 "mark":{"type":"text","text":"100°C","font":"Liberation Sans","fontWeight":"bold","fontSize":15,"color":"#000","align":"left","baseline":"middle"},
 "encoding":{"x":{"datum":4.399},"y":{"datum":-72.96}}},
{"data":{"values":[{}]},
 "mark":{"type":"rect","filled":false,"stroke":"#000","strokeWidth":1,"clip":false},
 "encoding":{"x":{"datum":0.3724},"x2":{"datum":1359.5},"y":{"datum":6.13},"y2":{"datum":-150}}}
]
}
